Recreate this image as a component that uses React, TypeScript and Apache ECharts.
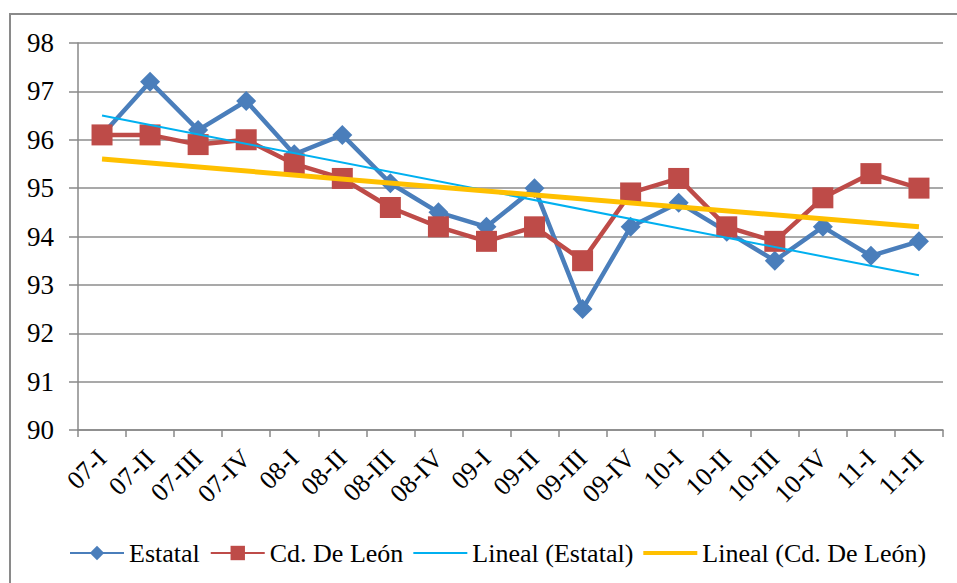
import React, { useEffect, useRef } from "react";
import * as echarts from "echarts";

const categories = ["07-I","07-II","07-III","07-IV","08-I","08-II","08-III","08-IV","09-I","09-II","09-III","09-IV","10-I","10-II","10-III","10-IV","11-I","11-II"];
const estatal = [96.1,97.2,96.2,96.8,95.7,96.1,95.1,94.5,94.2,95.0,92.5,94.2,94.7,94.1,93.5,94.2,93.6,93.9];
const leon = [96.1,96.1,95.9,96.0,95.5,95.2,94.6,94.2,93.9,94.2,93.5,94.9,95.2,94.2,93.9,94.8,95.3,95.0];
// trend lines read at first and last category
const trendEstatalEnds = [96.5, 93.2];
const trendLeonEnds = [95.6, 94.2];
const yTicks = [90, 98, 1];

function ends(e: number[]) {
  return categories.map((_, i) => (i === 0 ? e[0] : i === categories.length - 1 ? e[1] : null));
}

export default function App() {
  const ref = useRef<HTMLDivElement>(null);
  useEffect(() => {
    const chart = echarts.init(ref.current!, null, { renderer: "svg" });
    const font = "Liberation Serif";
    chart.setOption({
      animation: false,
      backgroundColor: "#fff",
      textStyle: { fontFamily: font },
      graphic: [
        { type: "rect", shape: { x: 10, y: 14, width: 980, height: 600 }, style: { fill: "none", stroke: "#8a8a8a", lineWidth: 2 }, silent: true },
      ],
      grid: { left: 78, right: 14, top: 43, bottom: 153 },
      legend: {
        bottom: 12,
        left: 64,
        itemWidth: 54,
        itemHeight: 18,
        itemGap: 10,
        textStyle: { fontFamily: font, fontSize: 26, color: "#000" },
        data: [
          { name: "Estatal" },
          { name: "Cd. De León" },
          { name: "Lineal (Estatal)", icon: "path://M0,8 L56,8 L56,10 L0,10 Z" },
          { name: "Lineal (Cd. De León)", icon: "path://M0,7 L56,7 L56,11 L0,11 Z" },
        ],
      },
      xAxis: {
        type: "category",
        data: categories,
        boundaryGap: true,
        axisLine: { lineStyle: { color: "#888", width: 1.5 } },
        axisTick: { show: true, length: 7, alignWithLabel: false, lineStyle: { color: "#888", width: 1.5 } },
        axisLabel: { rotate: 45, interval: 0, fontFamily: font, fontSize: 26, color: "#000", margin: 24 },
      },
      yAxis: {
        type: "value",
        min: yTicks[0],
        max: yTicks[1],
        interval: yTicks[2],
        axisLine: { show: true, lineStyle: { color: "#888", width: 1.5 } },
        axisTick: { show: true, length: 9, lineStyle: { color: "#888", width: 1.5 } },
        splitLine: { lineStyle: { color: "#8c8c8c", width: 1.5 } },
        axisLabel: { fontFamily: font, fontSize: 27, color: "#000", margin: 24 },
      },
      series: [
        {
          name: "Estatal",
          type: "line",
          data: estatal,
          symbol: "diamond",
          symbolSize: 20,
          color: "#4A7EBB",
          lineStyle: { width: 4.5, color: "#4A7EBB" },
          itemStyle: { color: "#4A7EBB" },
          z: 3,
        },
        {
          name: "Cd. De León",
          type: "line",
          data: leon,
          symbol: "rect",
          symbolSize: 21,
          color: "#BE4B48",
          lineStyle: { width: 4.5, color: "#BE4B48" },
          itemStyle: { color: "#BE4B48" },
          z: 4,
        },
        {
          name: "Lineal (Estatal)",
          type: "line",
          data: ends(trendEstatalEnds),
          connectNulls: true,
          symbol: "none",
          color: "#00B0F0",
          lineStyle: { width: 2, color: "#00B0F0" },
          z: 5,
        },
        {
          name: "Lineal (Cd. De León)",
          type: "line",
          data: ends(trendLeonEnds),
          connectNulls: true,
          symbol: "none",
          color: "#FFC000",
          lineStyle: { width: 5, color: "#FFC000" },
          z: 6,
        },
      ],
    });
    return () => chart.dispose();
  }, []);
  return <div ref={ref} style={{ position: "fixed", left: 0, top: 0, width: 957, height: 583 }} />;
}
